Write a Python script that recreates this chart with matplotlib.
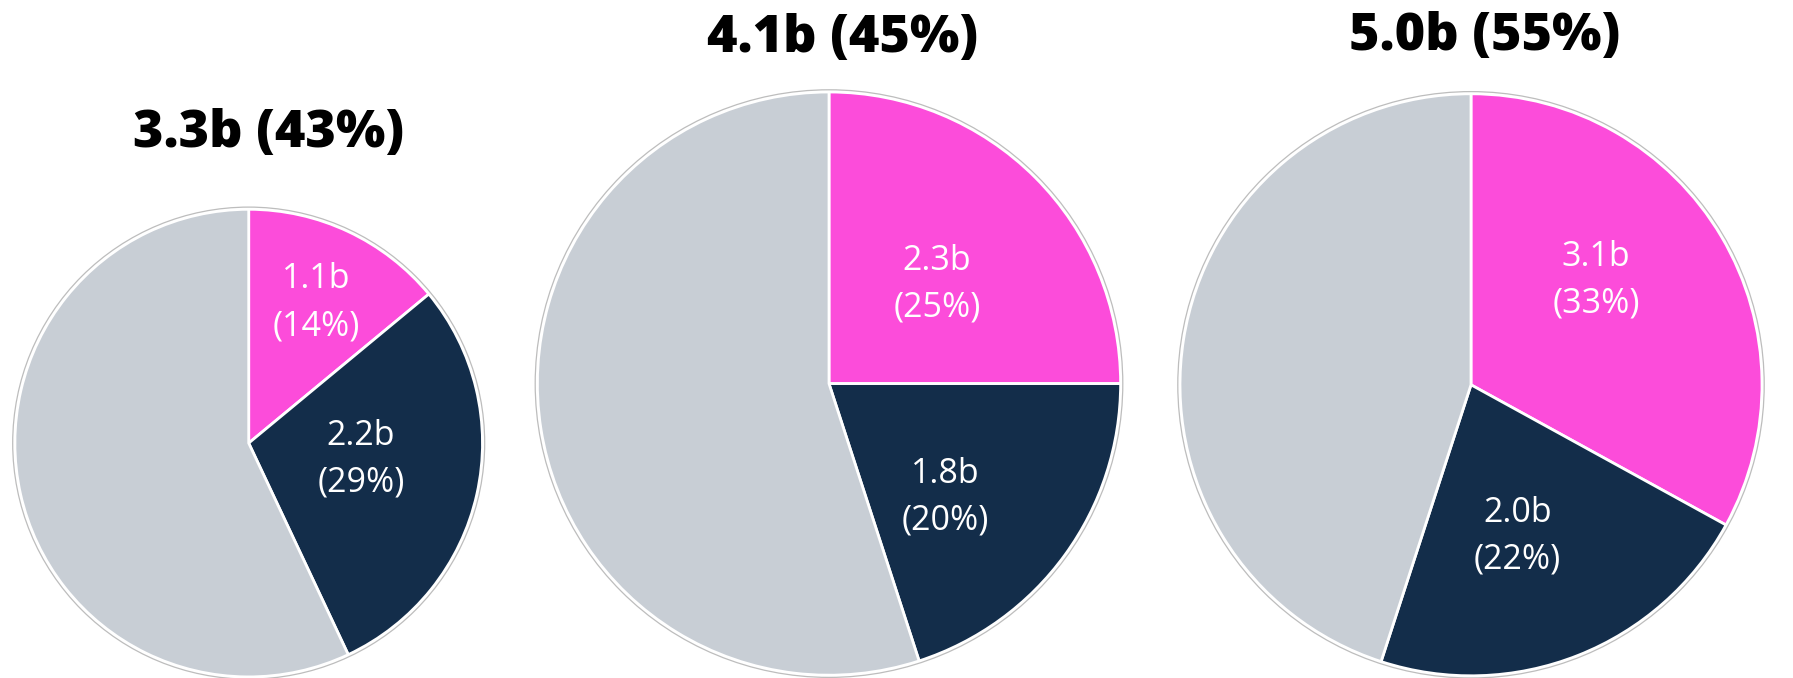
import matplotlib
matplotlib.use("Agg")
import matplotlib.pyplot as plt
from matplotlib.patches import Circle

# Share of each segment per chart (percent), drawn clockwise from 12 o'clock
titles = ["3.3b (43%)", "4.1b (45%)", "5.0b (55%)"]
pink_values = [1.1, 2.3, 3.1]
pink_pcts = [14, 25, 33]
navy_values = [2.2, 1.8, 2.0]
navy_pcts = [29, 20, 22]

PINK = "#FC4CDA"
NAVY = "#132D4A"
GREY = "#C8CED5"

W, H = 1793, 678
fig = plt.figure(figsize=(W / 100, H / 100), dpi=100)
ax = fig.add_axes([0, 0, 1, 1])

# layout: pie centre (x, y from bottom), radius, title position, label offsets (fraction of radius)
layout = [
    dict(c=(248.7, 678 - 443.1), r=233.8, t=(268.7, 678 - 133.5),
         lp=(0.29, 0.60), ln=(0.48, -0.07)),
    dict(c=(829.0, 678 - 383.6), r=291.6, t=(843.0, 678 - 38.5),
         lp=(0.37, 0.34), ln=(0.40, -0.39)),
    dict(c=(1471.0, 678 - 384.8), r=291.0, t=(1485.0, 678 - 36.5),
         lp=(0.43, 0.36), ln=(0.16, -0.52)),
]

label_font = dict(family=["Open Sans", "DejaVu Sans"], fontsize=24.5, color="white",
                  ha="center", va="center", linespacing=1.5)
title_font = dict(family=["Open Sans", "DejaVu Sans"], fontsize=37.5,
                  fontweight="heavy", color="black", ha="center", va="center")

for i, lay in enumerate(layout):
    rest = 100 - pink_pcts[i] - navy_pcts[i]
    cx, cy = lay["c"]
    r = lay["r"]
    ax.pie([pink_pcts[i], navy_pcts[i], rest], colors=[PINK, NAVY, GREY],
           startangle=90, counterclock=False, center=(cx, cy), radius=r,
           wedgeprops=dict(edgecolor="white", linewidth=2.0), frame=True)
    ax.add_patch(Circle((cx, cy), r + 2.2, fill=False, edgecolor="#BDBDBD",
                        linewidth=0.9, zorder=3))
    ax.text(cx + lay["lp"][0] * r, cy + lay["lp"][1] * r,
            f"{pink_values[i]:.1f}b\n({pink_pcts[i]}%)", **label_font)
    ax.text(cx + lay["ln"][0] * r, cy + lay["ln"][1] * r,
            f"{navy_values[i]:.1f}b\n({navy_pcts[i]}%)", **label_font)
    ax.text(*lay["t"], titles[i], **title_font)

ax.set_xlim(0, W)
ax.set_ylim(0, H)
ax.set_aspect("equal")
ax.axis("off")

fig.savefig("out.png", dpi=100, facecolor="white")
